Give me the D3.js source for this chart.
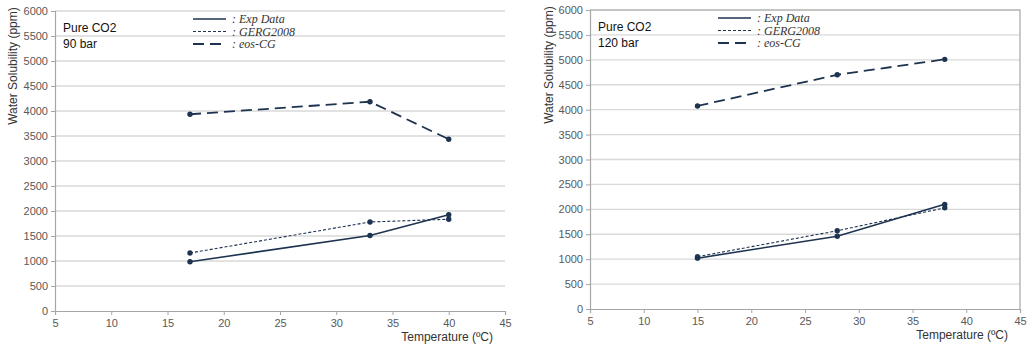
<!DOCTYPE html>
<html>
<head>
<meta charset="utf-8">
<script src="https://cdn.jsdelivr.net/npm/d3@7"></script>
<style>
  body { margin: 0; background: #fff; }
  svg { display: block; font-family: "Liberation Sans", Arial, sans-serif; }
  .tick text { fill: #595959; font-size: 11px; }
  .legend text { font-family: "Liberation Serif", "Times New Roman", serif; font-style: italic; font-size: 12px; fill: #333; }
</style>
</head>
<body>
<div id="chart"></div>
<script>
// data
const xTicks = [5, 10, 15, 20, 25, 30, 35, 40, 45];
const yTicks = [0, 500, 1000, 1500, 2000, 2500, 3000, 3500, 4000, 4500, 5000, 5500, 6000];

const temp90 = [17, 33, 40];
const exp90 = [985, 1510, 1925];
const gerg90 = [1160, 1780, 1835];
const eos90 = [3935, 4185, 3435];

const temp120 = [15, 28, 38];
const exp120 = [1020, 1460, 2100];
const gerg120 = [1050, 1570, 2030];
const eos120 = [4075, 4700, 5010];

const seriesNames = [": Exp Data", ": GERG2008", ": eos-CG"];
const lineColor = "#1d3350";

const width = 1029, height = 348;

const svg = d3.select("#chart")
  .append("svg")
  .attr("width", width)
  .attr("height", height)
  .attr("viewBox", [0, 0, width, height]);

const styles = [
  { dash: null, w: 1.6 },
  { dash: "3,2", w: 1.1 },
  { dash: "11,6", w: 1.8 }
];

function panel(opt) {
  const x = d3.scaleLinear().domain([5, 45]).range([opt.left, opt.right]);
  const y = d3.scaleLinear().domain([0, 6000]).range([opt.bottom, opt.top]);
  const g = svg.append("g");

  // gridlines
  g.append("g")
    .selectAll("line")
    .data(yTicks.slice(1))
    .join("line")
    .attr("x1", opt.left).attr("x2", opt.right)
    .attr("y1", d => y(d)).attr("y2", d => y(d))
    .attr("stroke", "#d9d9d9")
    .attr("stroke-width", 1.4);

  if (opt.frame) {
    g.append("path")
      .attr("d", `M${opt.left},${opt.top}H${opt.right}V${opt.bottom}`)
      .attr("fill", "none")
      .attr("stroke", "#a6a6a6")
      .attr("stroke-width", 1.2);
  }

  // axes
  const yAxis = g.append("g")
    .attr("transform", `translate(${opt.left},0)`)
    .call(d3.axisLeft(y).tickValues(yTicks).tickFormat(d3.format("d")).tickSize(4).tickPadding(3));
  const xAxis = g.append("g")
    .attr("transform", `translate(0,${opt.bottom})`)
    .call(d3.axisBottom(x).tickValues(xTicks).tickFormat(d3.format("d")).tickSize(4).tickPadding(4));
  [yAxis, xAxis].forEach(a => {
    a.select(".domain").attr("stroke", "#a6a6a6").attr("stroke-width", 1.2);
    a.selectAll(".tick line").attr("stroke", "#a6a6a6");
  });

  // axis titles
  g.append("text")
    .attr("transform", `translate(${opt.ylabX},${opt.top + 55}) rotate(-90)`)
    .attr("text-anchor", "middle")
    .attr("font-size", 12)
    .attr("fill", "#333")
    .text("Water Solubility (ppm)");
  g.append("text")
    .attr("x", opt.right - 12)
    .attr("y", opt.bottom + 30)
    .attr("text-anchor", "end")
    .attr("font-size", 12)
    .attr("fill", "#333")
    .text("Temperature (ºC)");

  // annotation
  g.append("text").attr("x", opt.left + 8).attr("y", opt.top + 21)
    .attr("font-size", 12).attr("fill", "#111").text("Pure CO2");
  g.append("text").attr("x", opt.left + 8).attr("y", opt.top + 37)
    .attr("font-size", 12).attr("fill", "#111").text(opt.pressure);

  // series
  const line = d3.line().x(d => x(d[0])).y(d => y(d[1]));
  opt.series.forEach((vals, i) => {
    const pts = opt.temps.map((t, j) => [t, vals[j]]);
    g.append("path")
      .datum(pts)
      .attr("d", line)
      .attr("fill", "none")
      .attr("stroke", lineColor)
      .attr("stroke-width", styles[i].w)
      .attr("stroke-dasharray", styles[i].dash);
    g.append("g")
      .selectAll("circle")
      .data(pts)
      .join("circle")
      .attr("cx", d => x(d[0]))
      .attr("cy", d => y(d[1]))
      .attr("r", 2.7)
      .attr("fill", lineColor);
  });

  // legend
  const lg = g.append("g").attr("class", "legend");
  seriesNames.forEach((name, i) => {
    const ly = opt.top + 8 + i * 12.5;
    lg.append("line")
      .attr("x1", opt.legX).attr("x2", opt.legX + 33)
      .attr("y1", ly).attr("y2", ly)
      .attr("stroke", lineColor)
      .attr("stroke-width", styles[i].w)
      .attr("stroke-dasharray", styles[i].dash);
    lg.append("text")
      .attr("x", opt.legX + 39)
      .attr("y", ly + 4)
      .text(name);
  });
}

panel({
  left: 55, right: 505, top: 11, bottom: 311,
  ylabX: 17, legX: 193, frame: false, pressure: "90 bar",
  temps: temp90, series: [exp90, gerg90, eos90]
});

panel({
  left: 590, right: 1020, top: 10, bottom: 309,
  ylabX: 553, legX: 718, frame: true, pressure: "120 bar",
  temps: temp120, series: [exp120, gerg120, eos120]
});
</script>
</body>
</html>
